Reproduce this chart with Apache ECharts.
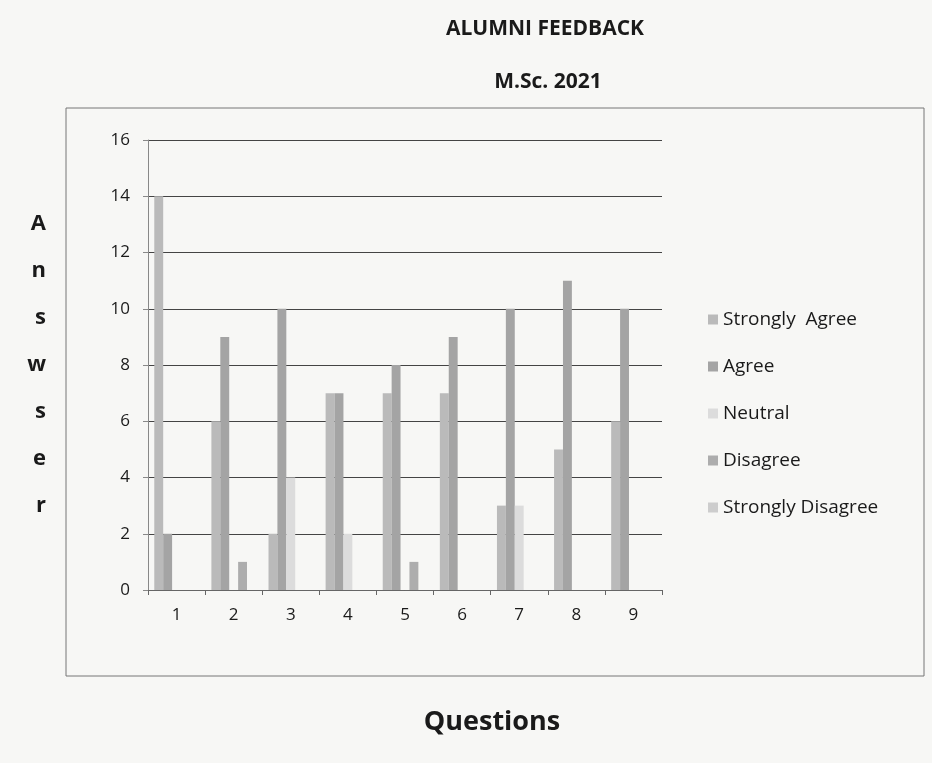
<!DOCTYPE html>
<html>
<head>
<meta charset="utf-8">
<script src="https://cdn.jsdelivr.net/npm/echarts@6/dist/echarts.min.js"></script>
<style>
  html, body { margin: 0; padding: 0; background: #f7f7f5; }
  #chart { width: 932px; height: 763px; }
</style>
</head>
<body>
<div id="chart"></div>
<script>
// questions on the x axis
var questions = ['1', '2', '3', '4', '5', '6', '7', '8', '9'];
var seriesNames = ['Strongly  Agree', 'Agree', 'Neutral', 'Disagree', 'Strongly Disagree'];

// answers per question
var stronglyAgree = [14, 6, 2, 7, 7, 7, 3, 5, 6];
var agree = [2, 9, 10, 7, 8, 9, 10, 11, 10];
var neutral = [0, 0, 4, 2, 0, 0, 3, 0, 0];
var disagree = [0, 1, 0, 0, 1, 0, 0, 0, 0];
var stronglyDisagree = [0, 0, 0, 0, 0, 0, 0, 0, 0];

var seriesData = [stronglyAgree, agree, neutral, disagree, stronglyDisagree];
var colors = ['#bababa', '#a4a4a4', '#dcdcdc', '#adadad', '#cdcdcd'];

var chart = echarts.init(document.getElementById('chart'));

var font = '"Open Sans", "Liberation Sans", sans-serif';

var option = {
  backgroundColor: '#f7f7f5',
  textStyle: { fontFamily: font },
  title: [
    {
      text: 'ALUMNI FEEDBACK',
      left: 540, top: 14, textAlign: 'center',
      textStyle: { fontSize: 21, fontWeight: 'bold', color: '#1a1a1a', fontFamily: font }
    },
    {
      text: 'M.Sc. 2021',
      left: 543, top: 67, textAlign: 'center',
      textStyle: { fontSize: 21, fontWeight: 'bold', color: '#1a1a1a', fontFamily: font }
    }
  ],
  graphic: [
    // frame around the chart
    {
      type: 'rect',
      shape: { x: 66, y: 108, width: 858, height: 568 },
      style: { fill: 'none', stroke: '#777', lineWidth: 1 },
      silent: true
    },
    {
      type: 'text',
      x: 492, y: 722,
      style: {
        text: 'Questions', fontSize: 27, fontWeight: 'bold', fill: '#1a1a1a',
        fontFamily: font, align: 'center', verticalAlign: 'middle'
      },
      silent: true
    }
  ],
  legend: {
    orient: 'vertical',
    left: 703,
    top: 305,
    itemWidth: 10,
    itemHeight: 10,
    itemGap: 28,
    icon: 'rect',
    textStyle: { fontSize: 19, color: '#1a1a1a', fontFamily: font },
    data: seriesNames
  },
  grid: { left: 148, right: 270, top: 140, bottom: 173 },
  xAxis: {
    type: 'category',
    data: questions,
    axisLine: { lineStyle: { color: '#666' } },
    axisTick: { show: true, lineStyle: { color: '#666' }, length: 5 },
    axisLabel: { fontSize: 17, color: '#1a1a1a', margin: 17 }
  },
  yAxis: {
    type: 'value',
    min: 0, max: 16, interval: 2,
    name: 'A\nn\ns\nw\ns\ne\nr',
    nameLocation: 'middle',
    nameRotate: 0,
    nameGap: 102,
    nameTextStyle: { fontSize: 22, fontWeight: 'bold', color: '#1a1a1a', lineHeight: 47 },
    axisLine: { show: true, lineStyle: { color: '#888' } },
    axisTick: { show: true, lineStyle: { color: '#888' }, length: 5 },
    axisLabel: { fontSize: 17, color: '#1a1a1a', margin: 18 },
    splitLine: { lineStyle: { color: '#444', width: 1.2 } }
  },
  series: seriesNames.map(function (name, i) {
    return {
      name: name,
      type: 'bar',
      data: seriesData[i],
      barGap: '0%',
      barCategoryGap: '22%',
      itemStyle: { color: colors[i] }
    };
  })
};

chart.setOption(option);
</script>
</body>
</html>
